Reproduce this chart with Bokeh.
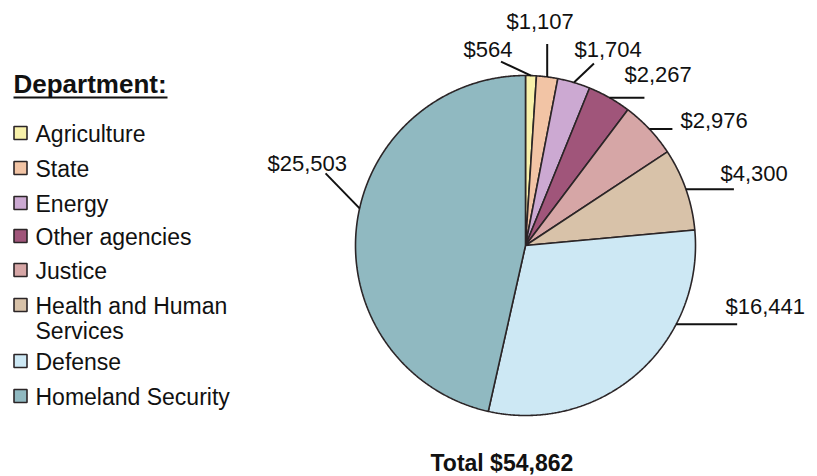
import math
from bokeh.plotting import figure
from bokeh.models import Range1d
from bokeh.core.properties import value
from bokeh.embed import file_html
from bokeh.resources import INLINE

# ---------------- data ----------------
departments = ["Agriculture", "State", "Energy", "Other agencies", "Justice",
               "Health and Human\nServices", "Defense", "Homeland Security"]
amounts = [564, 1107, 1704, 2267, 2976, 4300, 16441, 25503]
colors = ["#F8F1AA", "#F2C4A5", "#CCA9D2", "#A0557A", "#D6A6A6",
          "#D8C2A9", "#CDE8F4", "#90B9C1"]
legend_title = "Department:"
total_label = "Total $54,862"

# ---------------- layout (styling only) ----------------
W, H = 809, 476
FONT = "Liberation Sans"
EDGE = "#2B2527"
BASE = 0.37  # baseline correction as fraction of font size
cx, cy, r = 525, 245, 170
# leader-line anchor angle overrides (deg clockwise from top), None = slice middle
anchor_override = [None, None, None, None, None, None, 117.6, 282.6]
leader_offsets = [(-30, -14), (0, -33), (20, -19), (35, 0), (23, 0), (48, 0), (61, 0), (-34, -35)]
label_pos = [(463, 57), (506, 29), (574, 57), (624, 82), (680, 128), (720, 181), (725, 314), (267, 171)]
legend_rows = [132.5, 167.5, 202.5, 235.5, 269.5, 304.5, 360.5, 395.5]

total = sum(amounts)

p = figure(width=W, height=H, x_range=Range1d(0, W), y_range=Range1d(H, 0),
           min_border=0, toolbar_location=None, output_backend="svg",
           x_axis_location=None, y_axis_location=None)
p.grid.visible = False
p.outline_line_color = None
p.background_fill_color = "white"
p.border_fill_color = "white"

# ---------------- pie slices ----------------
xs, ys = [], []
mids = []
cum = 0
for v in amounts:
    a0 = 360.0 * cum / total
    a1 = 360.0 * (cum + v) / total
    mids.append((a0 + a1) / 2)
    n = max(4, int((a1 - a0) * 3))
    px, py = [cx], [cy]
    for i in range(n + 1):
        a = math.radians(a0 + (a1 - a0) * i / n)
        px.append(cx + r * math.sin(a))
        py.append(cy - r * math.cos(a))
    xs.append(px)
    ys.append(py)
    cum += v

p.patches(xs=xs, ys=ys, fill_color=colors, line_color=EDGE, line_width=1.6)

# ---------------- leader lines and labels ----------------
x0s, y0s, x1s, y1s = [], [], [], []
for i, v in enumerate(amounts):
    ang = anchor_override[i] if anchor_override[i] is not None else mids[i]
    a = math.radians(ang)
    sx = cx + r * math.sin(a)
    sy = cy - r * math.cos(a)
    dx, dy = leader_offsets[i]
    x0s.append(sx); y0s.append(sy)
    x1s.append(sx + dx); y1s.append(sy + dy)
p.segment(x0=x0s, y0=y0s, x1=x1s, y1=y1s, line_color="#111111", line_width=2)

LS = 22
p.text(x=[q[0] for q in label_pos], y=[q[1] - BASE * LS for q in label_pos],
       text=[f"${v:,}" for v in amounts], text_font=value(FONT),
       text_font_size=value(f"{LS}px"), text_color="#111111",
       text_align="left", text_baseline="alphabetic")

TS = 23
p.text(x=[430], y=[471 - BASE * TS], text=[total_label], text_font=value(FONT),
       text_font_size=value(f"{TS}px"), text_font_style="bold", text_color="#111111",
       text_align="left", text_baseline="alphabetic")

# ---------------- legend ----------------
HS = 26
p.text(x=[13], y=[93 - BASE * HS], text=[legend_title], text_font=value(FONT),
       text_font_size=value(f"{HS}px"), text_font_style="bold", text_color="#111111",
       text_align="left", text_baseline="alphabetic")
p.segment(x0=[13], y0=[97], x1=[167], y1=[97], line_color="#111111", line_width=2)

p.rect(x=[20] * len(departments), y=legend_rows, width=13, height=13,
       fill_color=colors, line_color=EDGE, line_width=1.6)

GS = 23
lx, ly, lt = [], [], []
for i, name in enumerate(departments):
    for j, part in enumerate(name.split("\n")):
        lx.append(35)
        ly.append(legend_rows[i] + 9.5 + j * 25 - BASE * GS)
        lt.append(part)
p.text(x=lx, y=ly, text=lt, text_font=value(FONT), text_font_size=value(f"{GS}px"),
       text_color="#111111", text_align="left", text_baseline="alphabetic")

open("out.html", "w").write(file_html(p, INLINE))
